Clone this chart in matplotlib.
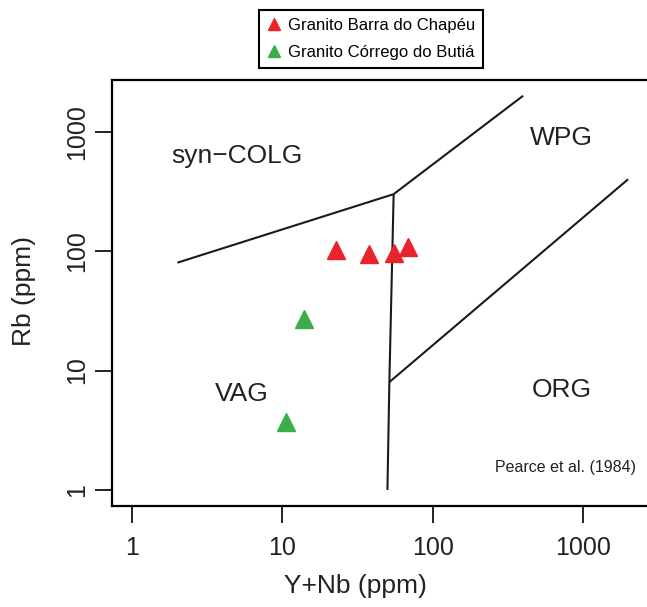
import matplotlib
matplotlib.use("Agg")
import matplotlib.pyplot as plt
from matplotlib.lines import Line2D

plt.rcParams['font.family'] = ['Liberation Sans', 'DejaVu Sans']

# Sample data (Y+Nb, Rb in ppm)
barra_x = [22.6, 37.8, 55.4, 68.6]
barra_y = [103, 95, 96, 109]
butia_x = [13.9, 10.6]
butia_y = [26.8, 3.7]

# Pearce et al. (1984) discrimination boundaries
syncolg_vag_x = [2, 55]
syncolg_vag_y = [80, 300]
wpg_syncolg_x = [55, 400]
wpg_syncolg_y = [300, 2000]
vag_wpg_x = [55, 51.5, 50]
vag_wpg_y = [300, 8, 1]
org_wpg_x = [51.5, 2000]
org_wpg_y = [8, 400]

ticks = [1, 10, 100, 1000]
tick_labels = ["1", "10", "100", "1000"]

RED = '#E8232B'
GREEN = '#3BAE4A'

fig = plt.figure(figsize=(6.47, 6.07), dpi=100)
ax = fig.add_axes([0.1736, 0.1669, 0.8279, 0.7013])
ax.set_xscale('log')
ax.set_yscale('log')
lo, hi = 10 ** -0.132, 10 ** 3.433
ax.set_xlim(lo, hi)
ax.set_ylim(lo, hi)

lw = 1.5
for xs, ys in [(syncolg_vag_x, syncolg_vag_y), (wpg_syncolg_x, wpg_syncolg_y),
               (vag_wpg_x, vag_wpg_y), (org_wpg_x, org_wpg_y)]:
    ax.plot(xs, ys, color='#1a1a1a', lw=lw, solid_capstyle='butt', zorder=2)

ax.plot(barra_x, barra_y, linestyle='none', marker='^', ms=12.5, color=RED,
        mec=RED, zorder=3)
ax.plot(butia_x, butia_y, linestyle='none', marker='^', ms=12.5, color=GREEN,
        mec=GREEN, zorder=3)

fs = 19
ax.text(5.0, 630, "syn\u2212COLG", fontsize=fs, ha='center', va='center', color='#222222')
ax.text(723, 891, "WPG", fontsize=fs, ha='center', va='center', color='#222222')
ax.text(5.38, 6.3, "VAG", fontsize=fs, ha='center', va='center', color='#222222')
ax.text(723, 6.9, "ORG", fontsize=fs, ha='center', va='center', color='#222222')
ax.text(0.977, 0.0886, "Pearce et al. (1984)", fontsize=11.5, ha='right', va='center',
        transform=ax.transAxes, color='#222222')

ax.set_xticks(ticks)
ax.set_xticklabels(tick_labels)
ax.set_yticks(ticks)
ax.set_yticklabels(tick_labels, rotation=90, va='center')
ax.minorticks_off()
ax.tick_params(axis='both', which='major', direction='out', length=12.5, width=1.4,
               labelsize=18, colors='#222222')
ax.tick_params(axis='x', pad=9)
ax.tick_params(axis='y', pad=4)

for s in ax.spines.values():
    s.set_linewidth(1.6)
ax.spines['right'].set_visible(False)

ax.set_xlabel("Y+Nb (ppm)", fontsize=19, color='#222222')
ax.set_ylabel("Rb (ppm)", fontsize=19, color='#222222')
ax.xaxis.set_label_coords(0.453, -0.16)
ax.yaxis.set_label_coords(-0.143, 0.505)

handles = [Line2D([], [], linestyle='none', marker='^', ms=8, color=RED),
           Line2D([], [], linestyle='none', marker='^', ms=8, color=GREEN)]
leg = fig.legend(handles, ["Granito Barra do Chapéu", "Granito Córrego do Butiá"],
                 loc='center', bbox_to_anchor=(0.574, 0.9357), fontsize=12,
                 frameon=True, fancybox=False, framealpha=1, edgecolor='black',
                 handlelength=0.8, handletextpad=0.4, labelspacing=0.72,
                 borderpad=0.5)
leg.get_frame().set_linewidth(1.5)

fig.savefig("out.png", dpi=100)
